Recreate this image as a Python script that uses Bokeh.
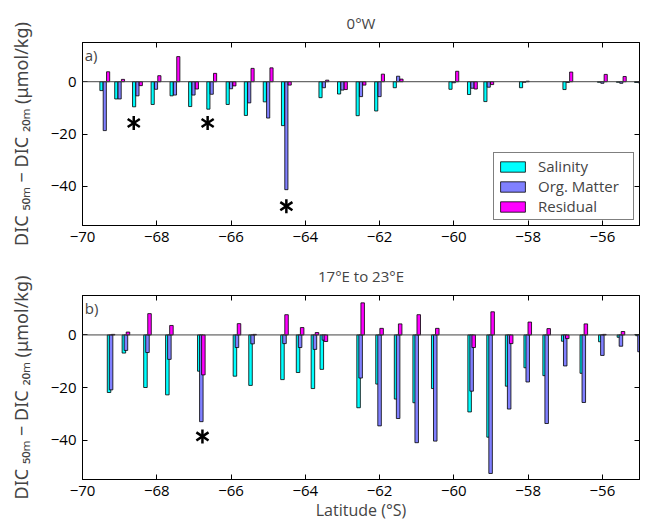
import numpy as np
from bokeh.plotting import figure
from bokeh.layouts import column
from bokeh.models import (ColumnDataSource, LinearAxis, Range1d, Span, Label,
                          FixedTicker, Legend, LegendItem, CustomJSTickFormatter)
from bokeh.transform import dodge
from bokeh.embed import file_html
from bokeh.resources import INLINE

# ---------------- data ----------------
# Panel a) 0°W
lat_a = [-69.40, -69.00, -68.52, -68.02, -67.51, -67.01, -66.52, -66.00, -65.51, -65.00, -64.51,
         -63.50, -63.00, -62.50, -62.00, -61.50, -60.00, -59.50, -59.06, -58.10, -56.93, -56.00,
         -55.49, -55.00]
sal_a = [-3.4, -6.6, -9.6, -8.7, -5.4, -9.5, -10.5, -8.7, -12.9, -7.7, -16.8,
         -6.1, -4.7, -13.0, -11.2, -2.3, -2.9, -4.9, -7.6, -2.3, -3.0, -0.2,
         -0.2, -0.3]
org_a = [-18.7, -6.6, -5.4, -2.9, -5.1, -5.1, -4.8, -2.7, -8.1, -13.9, -41.3,
         -2.3, -3.2, -5.7, -5.7, 2.1, -0.4, -2.5, -2.1, -0.2, -0.3, -0.6,
         -0.6, -0.4]
res_a = [3.8, 0.9, -1.5, 2.3, 9.6, -2.8, 3.2, -1.6, 5.1, 5.3, -1.3,
         0.6, -3.0, -1.3, 2.9, 1.0, 4.0, -2.8, -1.1, 0.2, 3.7, 2.8,
         2.0, 0.3]
star_lat_a = [-68.62, -66.63, -64.51]
star_val_a = [-15.8, -15.8, -47.6]

# Panel b) 17°E to 23°E
lat_b = [-69.23, -68.83, -68.25, -67.66, -66.80, -65.84, -65.42, -64.56, -64.14, -63.74, -63.50,
         -62.51, -62.00, -61.50, -61.00, -60.50, -59.52, -59.01, -58.51, -58.01, -57.50, -57.00,
         -56.50, -56.00, -55.50, -55.00]
sal_b = [-21.9, -6.9, -20.0, -22.8, -13.8, -15.7, -19.2, -17.0, -14.3, -20.4, -13.1,
         -27.7, -18.7, -24.4, -25.8, -20.4, -29.3, -38.9, -19.5, -12.5, -15.5, -2.4,
         -14.6, -2.6, -0.9, -0.3]
org_b = [-20.9, -5.9, -6.7, -9.3, -33.0, -4.8, -3.4, -3.3, -4.8, -5.5, -2.0,
         -16.4, -34.6, -31.8, -41.0, -40.4, -21.4, -52.7, -28.2, -17.9, -33.7, -11.8,
         -25.7, -7.8, -4.3, -6.4]
res_b = [0.2, 1.1, 8.1, 3.6, -15.2, 4.3, 0.2, 7.7, 2.8, 0.9, -2.5,
         12.2, 2.5, 4.2, 7.7, 2.5, -4.8, 8.8, -3.3, 4.9, 2.4, -1.4,
         4.2, 0.2, 1.3, 0.1]
star_lat_b = [-66.77]
star_val_b = [-38.6]

series_names = ["Salinity", "Org. Matter", "Residual"]
series_colors = ["#00FFFF", "#8080FF", "#FF00FF"]

x_ticks = [-70, -68, -66, -64, -62, -60, -58, -56]
y_ticks = [-40, -20, 0]
x_lim = (-70, -55)
y_lim = (-55, 15)

titles = ["0°W", "17°E to 23°E"]
panel_tags = ["a)", "b)"]
ylabel = "DIC ₅₀ₘ − DIC ₂₀ₘ (μmol/kg)"
xlabel = "Latitude (°S)"

FONT = "Open Sans"


def minus(v):
    return ("−" + str(abs(v))) if v < 0 else str(v)


def make_panel(lat, sal, org, res, stars_x, stars_y, title, tag, height,
               top_border, bottom_border, offset, width, show_xlabel, show_legend):
    p = figure(width=644, height=height, output_backend="svg", toolbar_location=None,
               x_range=Range1d(*x_lim), y_range=Range1d(*y_lim),
               min_border_left=82, min_border_right=5,
               min_border_top=top_border, min_border_bottom=bottom_border)
    p.title.text = title
    p.title.align = "center"
    p.title.text_font = FONT
    p.title.text_font_size = "15px"
    p.title.text_font_style = "normal"
    p.title.standoff = 20
    p.background_fill_color = "white"
    p.border_fill_color = "white"
    p.outline_line_color = "black"
    p.outline_line_width = 1
    p.xgrid.grid_line_color = None
    p.ygrid.grid_line_color = None

    src = ColumnDataSource(dict(lat=lat, sal=sal, org=org, res=res))
    p.add_layout(Span(location=0, dimension="width", line_color="#444444", line_width=1))
    rends = []
    for col, off, color in zip(["sal", "org", "res"], [-offset, 0.0, offset], series_colors):
        r = p.vbar(x=dodge("lat", off, range=p.x_range), top=col, bottom=0, width=width,
                   source=src, fill_color=color, line_color="black", line_width=0.8)
        rends.append(r)

    star_src = ColumnDataSource(dict(x=stars_x, y=stars_y))
    for ang in (0.0, np.pi):
        p.scatter(x="x", y="y", source=star_src, marker="y", size=14, angle=ang,
                  line_color="black", line_width=2.5)

    p.add_layout(Label(x=x_lim[0] + 0.06, y=y_lim[1] - 0.8, text=tag, text_baseline="top",
                       text_font=FONT, text_font_size="15px"))

    # axes
    for ax in p.xaxis:
        ax.ticker = FixedTicker(ticks=x_ticks)
        ax.major_label_overrides = {t: minus(t) for t in x_ticks}
    for ax in p.yaxis:
        ax.ticker = FixedTicker(ticks=y_ticks)
        ax.major_label_overrides = {t: minus(t) for t in y_ticks}
    for ax in p.xaxis + p.yaxis:
        ax.major_tick_in = 5
        ax.major_tick_out = 0
        ax.minor_tick_line_color = None
        ax.axis_line_color = "black"
        ax.major_tick_line_color = "black"
        ax.major_label_text_font = FONT
        ax.major_label_text_font_size = "15px"
        ax.major_label_text_color = "black"
        ax.major_label_standoff = 6
    p.yaxis.axis_label = ylabel
    p.yaxis.axis_label_text_font = "Noto Sans"
    p.yaxis.axis_label_text_font_size = "18px"
    p.yaxis.axis_label_text_font_style = "normal"
    p.yaxis.axis_label_standoff = 15
    if show_xlabel:
        p.xaxis.axis_label = xlabel
        p.xaxis.axis_label_text_font = FONT
        p.xaxis.axis_label_text_font_size = "16px"
        p.xaxis.axis_label_text_font_style = "normal"
        p.xaxis.axis_label_standoff = 0

    blank = CustomJSTickFormatter(code="return ''")
    top_ax = LinearAxis(ticker=FixedTicker(ticks=x_ticks), formatter=blank,
                        major_tick_in=5, major_tick_out=0, minor_tick_line_color=None,
                        axis_line_color="black", major_label_standoff=0)
    right_ax = LinearAxis(ticker=FixedTicker(ticks=y_ticks), formatter=blank,
                          major_tick_in=5, major_tick_out=0, minor_tick_line_color=None,
                          axis_line_color="black", major_label_standoff=0)
    p.add_layout(top_ax, "above")
    p.add_layout(right_ax, "right")

    if show_legend:
        legend = Legend(items=[LegendItem(label=n, renderers=[r]) for n, r in zip(series_names, rends)],
                        location="bottom_right", margin=5, padding=3, spacing=0,
                        glyph_width=31, glyph_height=13, label_height=17, label_width=92,
                        label_standoff=10, label_text_font=FONT, label_text_font_size="15px",
                        border_line_color="black", border_line_width=1,
                        background_fill_color="white", background_fill_alpha=1.0)
        p.add_layout(legend)
    return p


p1 = make_panel(lat_a, sal_a, org_a, res_a, star_lat_a, star_val_a, titles[0], panel_tags[0],
                height=253, top_border=40, bottom_border=28, offset=0.09, width=0.085,
                show_xlabel=False, show_legend=True)
p2 = make_panel(lat_b, sal_b, org_b, res_b, star_lat_b, star_val_b, titles[1], panel_tags[1],
                height=272, top_border=42, bottom_border=46, offset=0.055, width=0.095,
                show_xlabel=True, show_legend=False)

layout = column(p1, p2, spacing=0)
open("out.html", "w").write(file_html(layout, INLINE))
